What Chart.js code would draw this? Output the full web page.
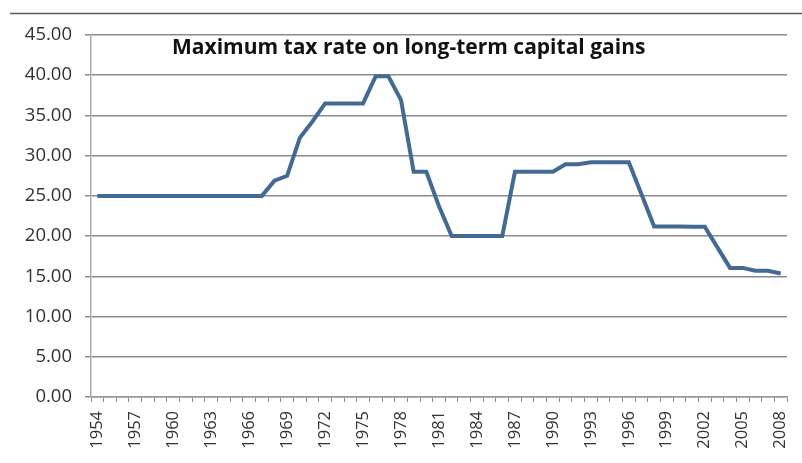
<!DOCTYPE html>
<html>
<head>
<meta charset="utf-8">
<script src="https://cdn.jsdelivr.net/npm/chart.js@4/dist/chart.umd.min.js"></script>
<style>
  html, body { margin: 0; padding: 0; background: #ffffff; }
  #wrap { position: relative; width: 802px; height: 463px; }
</style>
</head>
<body>
<div id="wrap"><canvas id="c" width="802" height="463"></canvas></div>
<script>
// Years 1954–2008
const years = [];
for (let y = 1954; y <= 2008; y++) years.push(String(y));

// Maximum tax rate on long-term capital gains (%), one value per year
const rates = [
  25, 25, 25, 25, 25, 25, 25, 25, 25, 25, 25, 25, 25, 25,   // 1954–1967
  26.9, 27.5, 32.21, 34.25, 36.5, 36.5, 36.5, 36.5,          // 1968–1975
  39.875, 39.875, 36.9, 28, 28, 23.7,                         // 1976–1981
  20, 20, 20, 20, 20,                                         // 1982–1986
  28, 28, 28, 28, 28.93, 28.93,                               // 1987–1992
  29.19, 29.19, 29.19, 29.19, 25.2,                           // 1993–1997
  21.19, 21.19, 21.19, 21.17, 21.16, 18.6,                    // 1998–2003
  16.05, 16.05, 15.7, 15.7, 15.35                             // 2004–2008
];

// Every third year is labelled on the axis
const labelEvery = 3;

const yMin = 0, yMax = 45, yStep = 5;

const chartTitle = 'Maximum tax rate on long-term capital gains';

const decor = {
  id: 'decor',
  beforeDraw(chart) {
    const ctx = chart.ctx;
    ctx.save();
    ctx.fillStyle = '#ffffff';
    ctx.fillRect(0, 0, chart.width, chart.height);
    // rule across the top of the sheet
    ctx.strokeStyle = '#5a5a5a';
    ctx.lineWidth = 1.5;
    ctx.beginPath();
    ctx.moveTo(10, 13.5);
    ctx.lineTo(chart.width, 13.5);
    ctx.stroke();
    ctx.restore();
  },
  afterDatasetsDraw(chart) {
    const ctx = chart.ctx;
    const a = chart.chartArea;
    ctx.save();
    ctx.font = 'bold 21px "Open Sans"';
    ctx.fillStyle = '#111111';
    ctx.textAlign = 'left';
    ctx.textBaseline = 'alphabetic';
    ctx.fillText(chartTitle, a.left + 81, a.top + 19);
    ctx.restore();
  }
};

new Chart(document.getElementById('c'), {
  type: 'line',
  data: {
    labels: years,
    datasets: [{
      data: rates,
      borderColor: '#426a92',
      borderWidth: 4,
      pointRadius: 0,
      tension: 0,
      fill: false
    }]
  },
  options: {
    responsive: false,
    animation: false,
    layout: { padding: { left: 0, right: 15, top: 35, bottom: 0 } },
    plugins: {
      legend: { display: false },
      title: { display: false },
      tooltip: { enabled: false }
    },
    scales: {
      x: {
        type: 'category',
        offset: true,
        grid: {
          offset: true,
          drawOnChartArea: false,
          drawTicks: true,
          tickLength: 5,
          color: '#8a8a8a'
        },
        border: { color: '#9a9a9a', width: 1.5 },
        ticks: {
          autoSkip: false,
          maxRotation: 90,
          minRotation: 90,
          padding: 9,
          color: '#333333',
          font: { family: 'Open Sans', size: 16.5 },
          callback: function (v, i) { return i % labelEvery === 0 ? years[i] : ''; }
        },
        afterFit(s) {
          s.height = 66;
          s.paddingLeft = 0;
          s.paddingRight = 0;
        }
      },
      y: {
        min: yMin,
        max: yMax,
        grid: {
          color: '#8a8a8a',
          lineWidth: 1.5,
          tickLength: 6
        },
        border: { color: '#aaaaaa', width: 1.5 },
        ticks: {
          stepSize: yStep,
          padding: 13,
          color: '#333333',
          font: { family: 'Open Sans', size: 18.5 },
          callback: v => Number(v).toFixed(2)
        },
        afterFit(s) {
          s.width = 91;
          s.paddingTop = 0;
          s.paddingBottom = 0;
        }
      }
    }
  },
  plugins: [decor]
});
</script>
</body>
</html>
